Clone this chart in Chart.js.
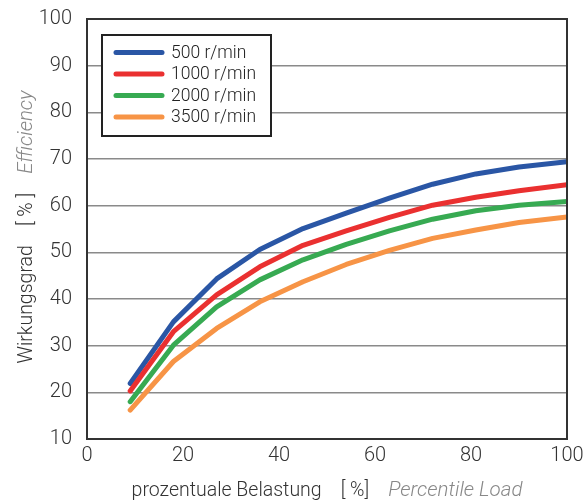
<!DOCTYPE html>
<html><head><meta charset="utf-8">
<script src="https://cdn.jsdelivr.net/npm/chart.js@4/dist/chart.umd.min.js"></script>
<style>html,body{margin:0;padding:0;background:#fff}#c{display:block}</style>
</head><body>
<canvas id="c" width="583" height="504"></canvas>
<script>
const loadPct = [9, 18, 27, 36, 45, 54, 63, 72, 81, 90, 100];
const seriesLabels = ['500 r/min', '1000 r/min', '2000 r/min', '3500 r/min'];
const eff500  = [21.9, 35.1, 44.3, 50.6, 55.1, 58.4, 61.6, 64.6, 66.8, 68.3, 69.4];
const eff1000 = [20.3, 33.0, 40.9, 46.9, 51.5, 54.6, 57.5, 60.1, 61.8, 63.2, 64.5];
const eff2000 = [18.0, 30.1, 38.3, 44.1, 48.4, 51.7, 54.6, 57.1, 58.9, 60.1, 60.9];
const eff3500 = [16.2, 26.6, 33.7, 39.4, 43.7, 47.4, 50.4, 53.0, 54.8, 56.4, 57.6];
const yTicks = [10, 20, 30, 40, 50, 60, 70, 80, 90, 100];
const xTicks = [0, 20, 40, 60, 80, 100];
const colors = ['#2a56a5', '#ea3030', '#37aa52', '#f79446'];

const FONT = '"Roboto", "Liberation Sans", sans-serif';
const allSeries = [eff500, eff1000, eff2000, eff3500];
const datasets = allSeries.map((s, i) => ({
  label: seriesLabels[i],
  data: loadPct.map((x, j) => ({x: x, y: s[j]})),
  borderColor: colors[i],
  backgroundColor: colors[i],
  borderWidth: 5,
  pointRadius: 0,
  borderCapStyle: 'round',
  borderJoinStyle: 'round',
  tension: 0
})).reverse();

const decor = {
  id: 'decor',
  afterDraw(chart) {
    const ctx = chart.ctx, a = chart.chartArea;
    ctx.save();
    ctx.strokeStyle = '#333';
    ctx.lineWidth = 2;
    ctx.strokeRect(a.left, a.top, a.right - a.left, a.bottom - a.top);
    const lx = 102, ly = 35, lw = 169, lh = 101;
    ctx.fillStyle = '#fff';
    ctx.fillRect(lx, ly, lw, lh);
    ctx.strokeStyle = '#222';
    ctx.lineWidth = 2;
    ctx.strokeRect(lx, ly, lw, lh);
    ctx.font = '300 17.5px ' + FONT;
    ctx.textBaseline = 'middle';
    ctx.textAlign = 'left';
    seriesLabels.forEach((lab, i) => {
      const y = 52.5 + i * 21.5;
      ctx.strokeStyle = colors[i];
      ctx.lineWidth = 5;
      ctx.lineCap = 'round';
      ctx.beginPath(); ctx.moveTo(116, y); ctx.lineTo(162, y); ctx.stroke();
      ctx.fillStyle = '#222';
      ctx.fillText(lab, 171, y + 1);
    });
    const TF = '300 19.5px ' + FONT, TFI = 'italic 300 20.5px ' + FONT;
    const xParts = [
      ['prozentuale Belastung', TF, '#333'],
      ['    [ %]    ', TF, '#333'],
      ['Percentile Load', TFI, '#888']
    ];
    let tw = 0;
    xParts.forEach(p => { ctx.font = p[1]; tw += ctx.measureText(p[0]).width; });
    let x0 = (a.left + a.right) / 2 - tw / 2;
    ctx.textAlign = 'left';
    ctx.textBaseline = 'middle';
    xParts.forEach(p => { ctx.font = p[1]; ctx.fillStyle = p[2]; ctx.fillText(p[0], x0, 491); x0 += ctx.measureText(p[0]).width; });
    const yParts = [
      ['Wirkungsgrad', TF, '#333'],
      ['    [ % ]    ', TF, '#333'],
      ['Efficiency', TFI, '#888']
    ];
    tw = 0;
    yParts.forEach(p => { ctx.font = p[1]; tw += ctx.measureText(p[0]).width; });
    ctx.translate(27, (a.top + a.bottom) / 2 - 2);
    ctx.rotate(-Math.PI / 2);
    let s0 = -tw / 2;
    yParts.forEach(p => { ctx.font = p[1]; ctx.fillStyle = p[2]; ctx.fillText(p[0], s0, 0); s0 += ctx.measureText(p[0]).width; });
    ctx.restore();
  }
};

new Chart(document.getElementById('c'), {
  type: 'line',
  data: { datasets },
  options: {
    responsive: false,
    animation: false,
    layout: { padding: { top: 19, right: 16, left: 0, bottom: 0 } },
    plugins: { legend: { display: false }, tooltip: { enabled: false } },
    scales: {
      x: {
        type: 'linear', min: 0, max: 100,
        afterBuildTicks: s => { s.ticks = xTicks.map(v => ({value: v})); },
        afterFit: s => { s.height = 65; s.paddingLeft = 0; s.paddingRight = 0; },
        grid: { display: false, drawTicks: false },
        border: { display: false },
        ticks: { padding: 5, color: '#333', font: { family: FONT, size: 20, weight: '300' } }
      },
      y: {
        type: 'linear', min: 10, max: 100,
        afterBuildTicks: s => { s.ticks = yTicks.map(v => ({value: v})); },
        afterFit: s => { s.width = 87; s.paddingTop = 0; s.paddingBottom = 0; },
        grid: { color: '#8a8a8a', lineWidth: 1.5, drawTicks: false },
        border: { display: false },
        ticks: { padding: 15, color: '#333', font: { family: FONT, size: 20, weight: '300' } }
      }
    }
  },
  plugins: [decor]
});
</script>
</body></html>
